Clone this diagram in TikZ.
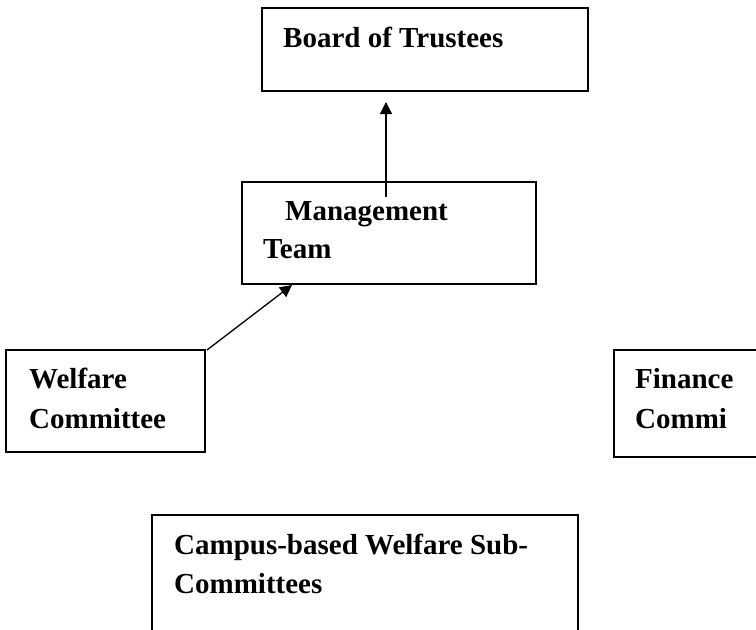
\documentclass[tikz,border=0pt]{standalone}
\usepackage{fontspec}
\setmainfont{Liberation Serif}
\usetikzlibrary{arrows.meta}
\begin{document}
\begin{tikzpicture}[x=1pt,y=-1pt,
  box/.style={draw=black,line width=1.3pt,rectangle,inner sep=0pt,outer sep=0pt,anchor=north west},
  lbl/.style={anchor=base west,inner sep=0pt,font=\fontsize{29}{39}\selectfont\bfseries},
  arr/.style={draw=black,line width=1.3pt,-{Triangle[length=12pt,width=12pt]}}]
\useasboundingbox (0,0) rectangle (756,630);
\fill[white] (0,0) rectangle (756,630);

% boxes
\node[box,minimum width=326pt,minimum height=83pt]  (board)   at (262,8)   {};
\node[box,minimum width=294pt,minimum height=102pt] (mgmt)    at (242,182) {};
\node[box,minimum width=199pt,minimum height=102pt] (welfare) at (6,350)   {};
\node[box,minimum width=160pt,minimum height=107pt] (finance) at (614,350) {};
\node[box,minimum width=426pt,minimum height=130pt] (campus)  at (152,515) {};

% labels
\node[lbl] (tBoard)  at (283,47)  {Board of Trustees};
\node[lbl] (tMgmtA)  at (285,220) {Management};
\node[lbl] (tMgmtB)  at (263,258) {Team};
\node[lbl] (tWelfA)  at (29,388)  {Welfare};
\node[lbl] (tWelfB)  at (29,428)  {Committee};
\node[lbl] (tFinA)   at (635,388) {Finance};
\node[lbl] (tFinB)   at (635,428) {Commi};
\node[lbl] (tCampA)  at (174,554) {Campus-based Welfare Sub-};
\node[lbl] (tCampB)  at (174,593) {Committees};

% connectors
\coordinate (mgmtIn)   at (386,197);
\coordinate (mgmtFoot) at (292,285);
\coordinate (welfTop)  at (207,350);
\draw[arr,shorten >=11pt] (mgmtIn) -- (mgmtIn |- board.south);
\draw[arr] (welfTop) -- (mgmtFoot);
\end{tikzpicture}
\end{document}
